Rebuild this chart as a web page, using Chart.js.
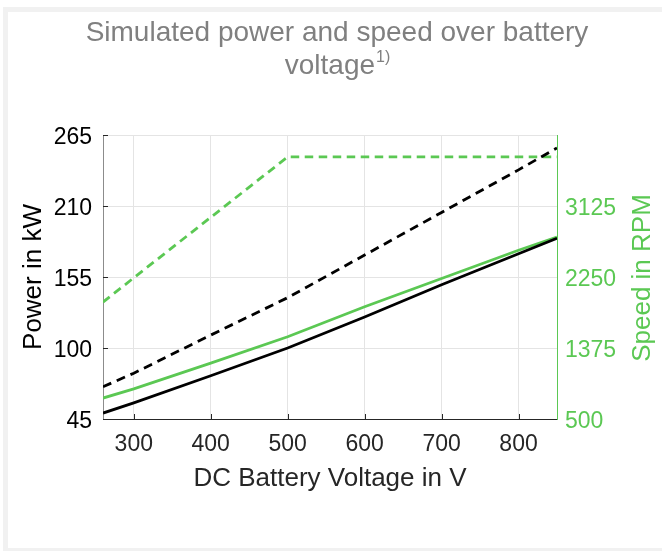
<!DOCTYPE html>
<html>
<head>
<meta charset="utf-8">
<script src="https://cdn.jsdelivr.net/npm/chart.js@4.4.1/dist/chart.umd.min.js"></script>
<style>
  html, body { margin: 0; padding: 0; background: #fff; }
  #wrap { position: relative; width: 662px; height: 551px; overflow: hidden; }
  #frame { position: absolute; left: 3px; top: 7px; width: 700px; height: 536px; border: 5px solid #f1f1f1; }
  #chart { position: absolute; left: 0; top: 0; }
</style>
</head>
<body>
<div id="wrap">
  <div id="frame"></div>
  <canvas id="chart" width="662" height="551"></canvas>
</div>
<script>
// Simulated power and speed over DC battery voltage
const FONT = "'Liberation Sans', Arial, Helvetica, sans-serif";
const GREEN = '#5bc853';

const voltage = [260, 300, 400, 500, 600, 700, 800, 850];
const powerSolid = [49.6, 57.5, 78.5, 100, 124, 149, 173, 185];
const powerDashed = [70, 80.5, 110, 139, 172, 205, 238, 255];
const speedSolid = [758, 872, 1188, 1514, 1883, 2231, 2579, 2742];
const speedDashed = [1940, 2240, 2985, 3730, 3730, 3730, 3730, 3730];

const xTicks = [300, 400, 500, 600, 700, 800];
const powerTicks = [45, 100, 155, 210, 265];
const speedTicks = [500, 1375, 2250, 3125];

const chartTitle = ['Simulated power and speed over battery', 'voltage'];
const titleNote = '1)';

function toPoints(ys) {
  return voltage.map((v, i) => ({ x: v, y: ys[i] }));
}

// title with a small raised note after the second line
const titlePlugin = {
  id: 'titleText',
  afterDraw(chart) {
    const ctx = chart.ctx;
    const cx = 337;
    ctx.save();
    ctx.fillStyle = '#808080';
    ctx.textBaseline = 'alphabetic';
    ctx.font = '28px ' + FONT;
    ctx.textAlign = 'center';
    ctx.fillText(chartTitle[0], cx, 41);
    const w = ctx.measureText(chartTitle[1]).width;
    ctx.font = '16px ' + FONT;
    const ws = ctx.measureText(titleNote).width;
    const x0 = cx - (w + ws) / 2;
    ctx.textAlign = 'left';
    ctx.font = '28px ' + FONT;
    ctx.fillText(chartTitle[1], x0, 74);
    ctx.font = '16px ' + FONT;
    ctx.fillText(titleNote, x0 + w + 1, 62);
    ctx.restore();
  }
};

// right axis title reads bottom to top, like the left one
const rightTitlePlugin = {
  id: 'rightTitle',
  afterDraw(chart) {
    const { ctx, chartArea } = chart;
    ctx.save();
    ctx.fillStyle = GREEN;
    ctx.font = '26px ' + FONT;
    ctx.textAlign = 'center';
    ctx.textBaseline = 'alphabetic';
    ctx.translate(chartArea.right + 93, (chartArea.top + chartArea.bottom) / 2 + 1);
    ctx.rotate(-Math.PI / 2);
    ctx.fillText('Speed in RPM', 0, 0);
    ctx.restore();
  }
};

// tick marks pointing into the plot
const innerTicksPlugin = {
  id: 'innerTicks',
  afterDraw(chart) {
    const { ctx, chartArea, scales } = chart;
    ctx.save();
    ctx.strokeStyle = '#262626';
    ctx.lineWidth = 1;
    ctx.beginPath();
    xTicks.forEach(v => {
      const x = Math.round(scales.x.getPixelForValue(v)) + 0.5;
      ctx.moveTo(x, chartArea.bottom);
      ctx.lineTo(x, chartArea.bottom - 5);
    });
    powerTicks.forEach(v => {
      const y = Math.round(scales.yPower.getPixelForValue(v)) + 0.5;
      ctx.moveTo(chartArea.left, y);
      ctx.lineTo(chartArea.left + 5, y);
    });
    ctx.stroke();
    ctx.restore();
  }
};

new Chart(document.getElementById('chart').getContext('2d'), {
  type: 'line',
  data: {
    datasets: [
      { data: toPoints(powerSolid), yAxisID: 'yPower', borderColor: '#000', borderWidth: 2.8 },
      { data: toPoints(powerDashed), yAxisID: 'yPower', borderColor: '#000', borderWidth: 2.8, borderDash: [9, 6] },
      { data: toPoints(speedSolid), yAxisID: 'ySpeed', borderColor: GREEN, borderWidth: 2.8 },
      { data: toPoints(speedDashed), yAxisID: 'ySpeed', borderColor: GREEN, borderWidth: 2.8, borderDash: [8.5, 5.5] }
    ]
  },
  options: {
    responsive: false,
    animation: false,
    devicePixelRatio: 1,
    layout: { padding: { top: 135, left: 0, right: 0, bottom: 0 } },
    elements: { point: { radius: 0 }, line: { tension: 0, fill: false } },
    plugins: { legend: { display: false }, tooltip: { enabled: false } },
    scales: {
      x: {
        type: 'linear',
        min: 260,
        max: 850,
        afterBuildTicks: s => { s.ticks = xTicks.map(v => ({ value: v })); },
        afterFit: s => { s.height = 132; },
        grid: { color: '#e4e4e4', drawTicks: false },
        border: { color: '#262626', width: 1 },
        ticks: { color: '#262626', font: { family: FONT, size: 23 }, padding: 12, maxRotation: 0, autoSkip: false },
        title: {
          display: true,
          text: 'DC Battery Voltage in V',
          color: '#262626',
          font: { family: FONT, size: 26 },
          padding: { top: 0, bottom: 57 }
        }
      },
      yPower: {
        position: 'left',
        min: 45,
        max: 265,
        afterBuildTicks: s => { s.ticks = powerTicks.map(v => ({ value: v })); },
        afterFit: s => { s.width = 103; },
        grid: { color: '#e4e4e4', drawTicks: false },
        border: { color: '#8c8c8c', width: 1 },
        ticks: { color: '#000', font: { family: FONT, size: 23 }, padding: 11, labelOffset: 3 },
        title: {
          display: true,
          text: 'Power in kW',
          color: '#000',
          font: { family: FONT, size: 26 },
          padding: { top: 18, bottom: 0 }
        }
      },
      ySpeed: {
        position: 'right',
        min: 500,
        max: 4000,
        afterBuildTicks: s => { s.ticks = speedTicks.map(v => ({ value: v })); },
        afterFit: s => { s.width = 105; },
        grid: { drawOnChartArea: false, drawTicks: false },
        border: { color: GREEN, width: 1 },
        ticks: {
          color: GREEN,
          font: { family: FONT, size: 23 },
          padding: 8,
          labelOffset: 3,
          callback: v => String(v)
        }
      }
    }
  },
  plugins: [titlePlugin, rightTitlePlugin, innerTicksPlugin]
});
</script>
</body>
</html>
